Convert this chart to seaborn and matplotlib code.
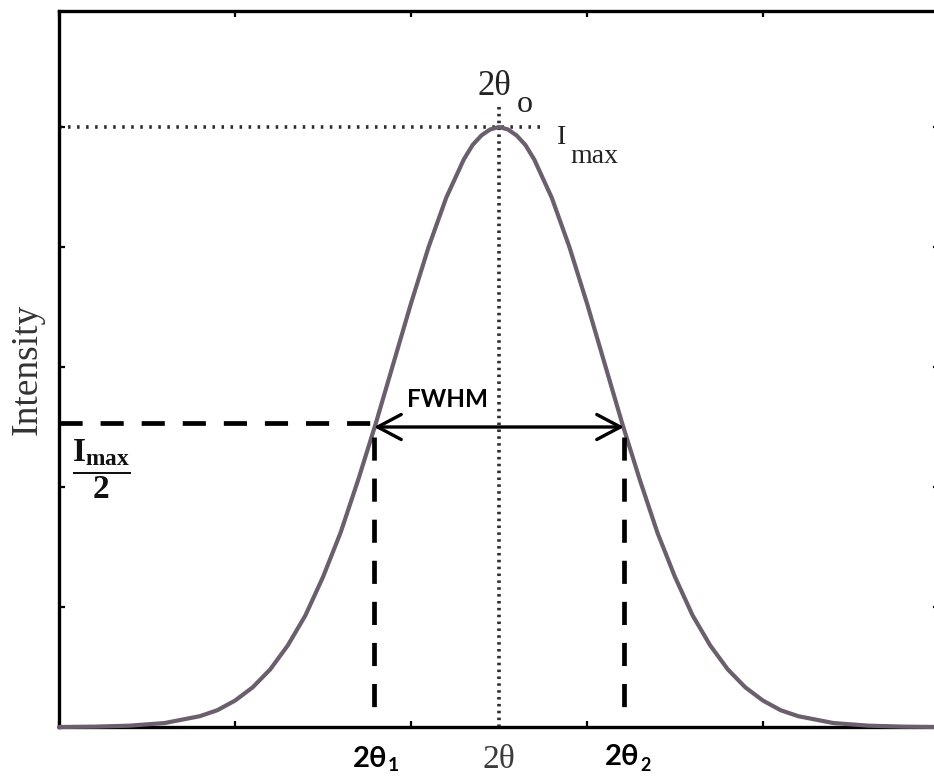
import matplotlib
matplotlib.use("Agg")
import matplotlib.pyplot as plt
import seaborn as sns
import pandas as pd

# Diffraction peak profile: scattering angle vs. intensity
two_theta = [0.0, 0.2, 0.4, 0.6, 0.8, 0.9, 1.0, 1.1, 1.2, 1.3, 1.4, 1.5, 1.6, 1.7,
             1.8, 1.9, 2.0, 2.1, 2.2, 2.3, 2.35, 2.4, 2.45, 2.5, 2.55, 2.6, 2.65,
             2.7, 2.8, 2.9, 3.0, 3.1, 3.2, 3.3, 3.4, 3.5, 3.6, 3.7, 3.8, 3.9, 4.0,
             4.1, 4.2, 4.4, 4.6, 4.8, 5.0]
intensity = [0.0, 0.003, 0.011, 0.033, 0.09, 0.14, 0.22, 0.33, 0.48, 0.68, 0.93,
             1.25, 1.62, 2.06, 2.53, 3.03, 3.53, 4.00, 4.41, 4.73, 4.85, 4.93,
             4.98, 5.00, 4.98, 4.93, 4.85, 4.73, 4.41, 4.00, 3.53, 3.03, 2.53,
             2.06, 1.62, 1.25, 0.93, 0.68, 0.48, 0.33, 0.22, 0.14, 0.09, 0.033,
             0.011, 0.003, 0.0]

peak_center = 2.5      # 2θ0
peak_max = 5.0         # Imax
half_max = 2.5         # Imax / 2
theta_1 = 1.79         # 2θ1
theta_2 = 3.21         # 2θ2

x_ticks = [0, 1, 2, 3, 4, 5]
y_ticks = [0, 1, 2, 3, 4, 5]

sns.set_theme(style="white")
plt.rcParams["font.family"] = ["Liberation Serif", "DejaVu Serif"]
plt.rcParams["mathtext.fontset"] = "custom"
plt.rcParams["mathtext.rm"] = "Liberation Serif:bold"
plt.rcParams["mathtext.it"] = "Liberation Serif:italic:bold"
plt.rcParams["mathtext.bf"] = "Liberation Serif:bold"

SANS = ["Lato", "Noto Sans", "DejaVu Sans"]

fig = plt.figure(figsize=(9.34, 7.76), dpi=100, facecolor="white")
ax = fig.add_axes([59 / 934, 49 / 776, 880 / 934, 716 / 776])
ax.set_xlim(0, 5)
ax.set_ylim(0, 716 / 120)

df = pd.DataFrame({"two_theta": two_theta, "intensity": intensity})
sns.lineplot(data=df, x="two_theta", y="intensity", ax=ax, color="#6b5e6d",
             lw=3.0, zorder=3, clip_on=False)

# dotted guides through the peak maximum
ax.plot([0, 2.75], [peak_max, peak_max], color="#2e2a2e", lw=2.6,
        ls=(0, (0.7, 1.8)), zorder=2)
ax.plot([peak_center, peak_center], [0, 5.2], color="#2e2a2e", lw=2.6,
        ls=(0, (0.7, 1.2)), zorder=2)

# dashed half-maximum guides
dash = (0, (4.9, 3.8))
ax.plot([0, theta_1], [half_max + 0.03, half_max + 0.03], color="black", lw=3.4,
        ls=dash, zorder=4)
ax.plot([theta_1, theta_1], [half_max - 0.08, 0.09], color="black", lw=3.4,
        ls=dash, zorder=4)
ax.plot([theta_2, theta_2], [half_max - 0.08, 0.09], color="black", lw=3.4,
        ls=dash, zorder=4)

# FWHM arrow
ax.annotate("", xy=(theta_1, half_max), xytext=(theta_2, half_max),
            arrowprops=dict(arrowstyle="<->,head_length=0.85,head_width=0.45",
                            lw=2.4, color="black", shrinkA=0, shrinkB=0,
                            mutation_scale=20), zorder=5)

for s in ax.spines.values():
    s.set_visible(True)
    s.set_color("black")
    s.set_linewidth(2.4)

ax.set_xticks(x_ticks)
ax.set_yticks(y_ticks)
ax.tick_params(which="both", direction="in", length=4.5, width=1.6,
               color="black", top=True, right=True, bottom=True, left=True,
               labelbottom=False, labelleft=False)

ax.set_xlabel("2θ", fontsize=24, color="#3c3c3c", va="baseline")
ax.xaxis.set_label_coords(0.5, (727 - 768) / 716)
ax.set_ylabel("Intensity", fontsize=27, color="#333333")
ax.yaxis.set_label_coords((45 - 59) / 880, 0.5)

# peak annotations
ax.text(2.472, 5.267, "2θ", fontsize=25, ha="center", va="baseline", color="#222222")
ax.text(2.645, 5.125, "o", fontsize=23, ha="center", va="baseline", color="#222222")
ax.text(2.83, 4.858, "I", fontsize=20, ha="left", va="baseline", color="#222222")
ax.text(2.903, 4.70, "max", fontsize=20, ha="left", va="baseline", color="#222222")

ax.text(2.21, 2.667, "FWHM", family=SANS, fontweight="bold", fontsize=17.5,
        ha="center", va="baseline", color="black")

ax.text(theta_1 - 0.025, -0.333, "2θ", family=SANS, fontweight="bold", fontsize=21,
        ha="center", va="baseline", color="black")
ax.text(theta_1 + 0.112, -0.37, "1", family=SANS, fontweight="bold", fontsize=14,
        ha="center", va="baseline", color="black")
ax.text(theta_2 - 0.008, -0.317, "2θ", family=SANS, fontweight="bold", fontsize=21,
        ha="center", va="baseline", color="black")
ax.text(theta_2 + 0.122, -0.37, "2", family=SANS, fontweight="bold", fontsize=13,
        ha="center", va="baseline", color="black")

ax.text(0.244, 2.15, r"$\dfrac{\mathrm{I}_{\mathrm{max}}}{\mathrm{2}}$",
        fontsize=24, ha="center", va="center", color="#111111")

fig.savefig("out.png", dpi=100, facecolor="white")
